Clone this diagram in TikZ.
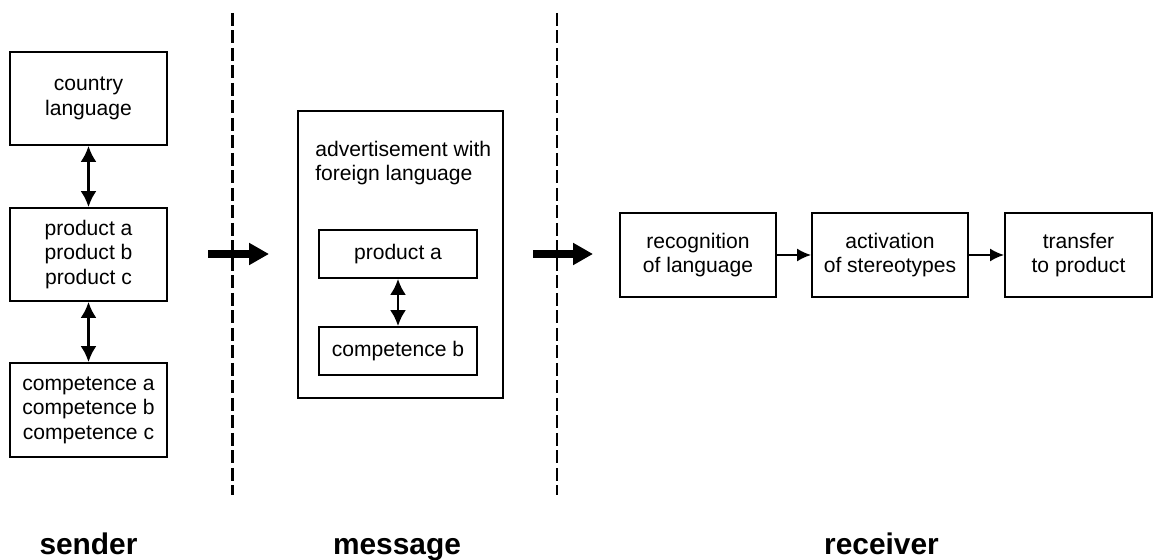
\documentclass[tikz,border=0pt]{standalone}
\usepackage{fontspec}
\setmainfont{Liberation Sans}
\usetikzlibrary{arrows.meta}

\begin{document}
\begin{tikzpicture}[
    box/.style={draw, line width=1pt, align=center, inner sep=0pt,
      font=\fontsize{12}{14}\selectfont},
    twoway/.style={{Latex[length=.32cm,width=.32cm]}-{Latex[length=.32cm,width=.32cm]},
      line width=1.5pt},
    oneway/.style={-{Latex[length=.28cm,width=.26cm]}, line width=1.2pt},
    bigarrow/.style={-{Triangle[length=.4cm,width=.42cm]}, line width=4pt},
    divider/.style={line width=1.2pt, dash pattern=on .26cm off .09cm},
    part/.style={anchor=base, font=\fontsize{17}{20}\selectfont\bfseries}
  ]
  \useasboundingbox (0,0) rectangle (23.08,11.2);

  % sender
  \node[box, minimum width=3.14cm, minimum height=1.86cm] (country) at (1.77,9.23)
    {country\\language};
  \node[box, minimum width=3.14cm, minimum height=1.86cm] (products) at (1.77,6.11)
    {product a\\product b\\product c};
  \node[box, minimum width=3.14cm, minimum height=1.88cm] (competences) at (1.77,3.0)
    {competence a\\competence b\\competence c};
  \draw[twoway] (country) -- (products);
  \draw[twoway] (products) -- (competences);

  % message
  \node[box, minimum width=4.1cm, minimum height=5.74cm] (ad) at (8.01,6.11) {};
  \node[anchor=west, align=left, inner sep=0pt, font=\fontsize{12}{14}\selectfont]
    (adtext) at (6.3,7.94) {advertisement with\\foreign language};
  \node[box, minimum width=3.16cm, minimum height=.96cm] (proda) at (7.96,6.12)
    {product a};
  \node[box, minimum width=3.16cm, minimum height=.96cm] (compb) at (7.96,4.18)
    {competence b};
  \draw[twoway] (proda) -- (compb);

  % receiver
  \node[box, minimum width=3.12cm, minimum height=1.68cm] (recog) at (13.96,6.1)
    {recognition\\of language};
  \node[box, minimum width=3.12cm, minimum height=1.68cm] (activ) at (17.8,6.1)
    {activation\\of stereotypes};
  \node[box, minimum width=2.94cm, minimum height=1.68cm] (transfer) at (21.57,6.1)
    {transfer\\to product};
  \draw[oneway] (recog) -- (activ);
  \draw[oneway] (activ) -- (transfer);

  % borders between the parts
  \coordinate (cut1top) at (4.65,10.94);
  \coordinate (cut1bot) at (4.65,1.3);
  \coordinate (cut2top) at (11.14,10.94);
  \coordinate (cut2bot) at (11.14,1.3);
  \draw[divider] (cut1top) -- (cut1bot);
  \draw[divider] (cut2top) -- (cut2bot);

  \coordinate (send) at (4.16,6.12);
  \coordinate (sendtip) at (5.38,6.12);
  \coordinate (pass) at (10.66,6.12);
  \coordinate (passtip) at (11.86,6.12);
  \draw[bigarrow] (send) -- (sendtip);
  \draw[bigarrow] (pass) -- (passtip);

  \node[part] (sender) at (1.77,0.1) {sender};
  \node[part] (message) at (7.94,0.1) {message};
  \node[part] (receiver) at (17.63,0.1) {receiver};
\end{tikzpicture}
\end{document}
